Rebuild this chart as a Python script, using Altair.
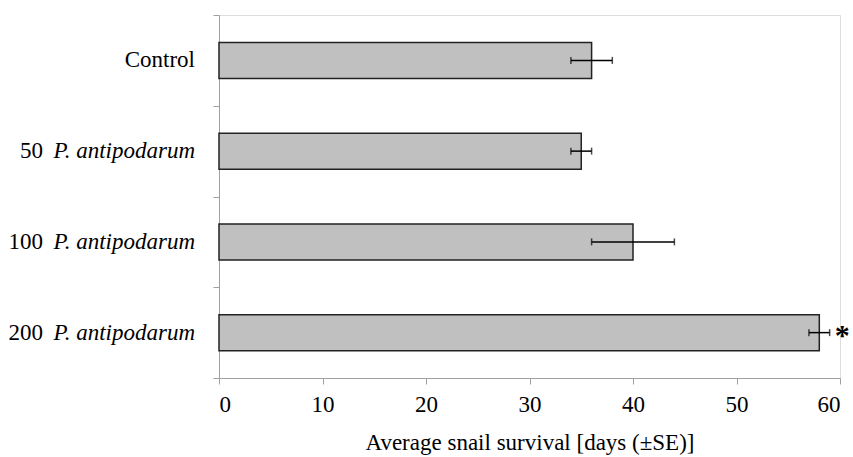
import altair as alt
import pandas as pd

groups = ["Control", "50", "100", "200"]
numbers = ["", "50", "100", "200"]
species = ["", "P. antipodarum", "P. antipodarum", "P. antipodarum"]
means = [36, 35, 40, 58]
se = [2, 1, 4, 1]
marks = ["", "", "", "*"]

df = pd.DataFrame({
    "group": groups,
    "num": numbers,
    "species": species,
    "mean": means,
    "lo": [m - s for m, s in zip(means, se)],
    "hi": [m + s for m, s in zip(means, se)],
    "sig": marks,
})

FONT = "Liberation Serif"
AX = "#A0A0A0"

yscale = alt.Scale(domain=groups, paddingInner=0, paddingOuter=0)
xscale = alt.Scale(domain=[0, 60], nice=False)

Y = alt.Y("group:N", sort=groups, scale=yscale)

base = alt.Chart(df)

bars = base.mark_bar(color="#C0C0C0", stroke="#222222", strokeWidth=1.5, size=36).encode(
    x=alt.X(
        "mean:Q",
        scale=xscale,
        axis=alt.Axis(
            values=[0, 10, 20, 30, 40, 50, 60],
            title="Average snail survival [days (±SE)]",
            titleFont=FONT,
            titleFontSize=23,
            titleFontWeight="normal",
            titleColor="#000",
            titlePadding=15,
            labelFont=FONT,
            labelFontSize=23,
            labelColor="#000",
            labelPadding=9,
            domainColor=AX,
            tickColor=AX,
            tickSize=6,
            grid=False,
        ),
    ),
    y=alt.Y(
        "group:N",
        sort=groups,
        scale=yscale,
        axis=alt.Axis(
            title=None,
            labels=False,
            tickBand="extent",
            domainColor=AX,
            tickColor=AX,
            tickSize=6,
        ),
    ),
)

rule = base.mark_rule(color="#000", strokeWidth=1.5).encode(x="lo:Q", x2="hi:Q", y=Y)
cap_lo = base.mark_tick(color="#000", size=7, thickness=1.5).encode(x="lo:Q", y=Y)
cap_hi = base.mark_tick(color="#000", size=7, thickness=1.5).encode(x="hi:Q", y=Y)

star = base.mark_text(
    align="left", baseline="middle", dx=5, dy=3, font=FONT, fontSize=30, fontWeight="bold", color="#000"
).encode(x="hi:Q", y=Y, text="sig:N")

lab_species = base.mark_text(
    align="right", baseline="middle", font=FONT, fontSize=23, fontStyle="italic", color="#000"
).encode(x=alt.value(-24), y=Y, text="species:N")

lab_num = base.mark_text(
    align="right", baseline="middle", font=FONT, fontSize=23, color="#000"
).encode(x=alt.value(-176), y=Y, text="num:N")

lab_ctrl = base.transform_filter(alt.datum.group == "Control").mark_text(
    align="right", baseline="middle", font=FONT, fontSize=23, color="#000"
).encode(x=alt.value(-24), y=Y, text="group:N")

chart = alt.layer(bars, rule, cap_lo, cap_hi, star, lab_species, lab_num, lab_ctrl).properties(
    width=621,
    height=363,
    autosize=alt.AutoSizeParams(type="none"),
    padding={"left": 219, "top": 15, "right": 13, "bottom": 79},
).configure_view(stroke=None).configure(background="white", font=FONT)

chart.save("out.html", embed_options={"renderer": "svg", "actions": False})
